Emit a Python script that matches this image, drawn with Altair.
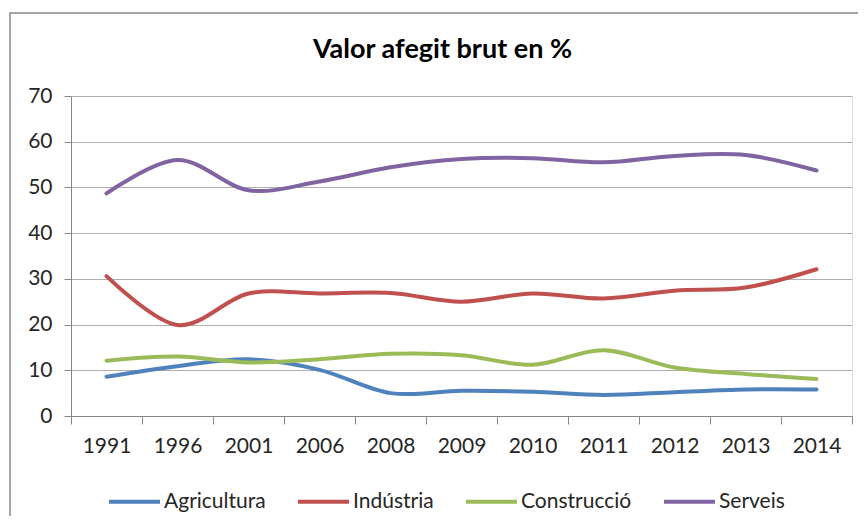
import altair as alt
import pandas as pd

years = ["1991", "1996", "2001", "2006", "2008", "2009", "2010", "2011", "2012", "2013", "2014"]
series_names = ["Agricultura", "Indústria", "Construcció", "Serveis"]
agricultura = [8.6, 10.9, 12.4, 10.1, 5.0, 5.5, 5.3, 4.6, 5.2, 5.8, 5.8]
industria = [30.6, 19.9, 26.8, 26.8, 26.9, 25.0, 26.8, 25.7, 27.4, 28.1, 32.1]
construccio = [12.1, 13.0, 11.7, 12.4, 13.6, 13.3, 11.2, 14.4, 10.6, 9.2, 8.1]
serveis = [48.7, 56.0, 49.4, 51.3, 54.4, 56.2, 56.4, 55.5, 56.9, 57.1, 53.7]
colors = ["#4F81BD", "#C0504D", "#9BBB59", "#8064A2"]
y_ticks = [0, 10, 20, 30, 40, 50, 60, 70]

rows = []
for name, vals in zip(series_names, [agricultura, industria, construccio, serveis]):
    for i, (yr, v) in enumerate(zip(years, vals)):
        rows.append({"i": i, "year": yr, "series": name, "value": v})
df = pd.DataFrame(rows)

n = len(years)
label_expr = "[" + ",".join("'" + y + "'" for y in years) + "][datum.value]"
boundaries = [k - 0.5 for k in range(n + 1)]

FONT = "Lato"
W, H = 781, 320

xscale = alt.Scale(domain=[-0.5, n - 0.5], nice=False, zero=False)
yscale = alt.Scale(domain=[0, 70], nice=False)

lines = alt.Chart(df).mark_line(interpolate="cardinal", strokeWidth=4, strokeCap="round").encode(
    x=alt.X("i:Q", scale=xscale,
            axis=alt.Axis(values=list(range(n)), labelExpr=label_expr, ticks=False, grid=False,
                          domain=True, domainColor="#868686", labelFontSize=21, labelColor="#262626",
                          labelPadding=19, title=None, orient="bottom", labelFont=FONT)),
    y=alt.Y("value:Q", scale=yscale,
            axis=alt.Axis(values=y_ticks, grid=True, gridColor="#B0B0B0", domainColor="#868686",
                          tickColor="#868686", tickSize=7, labelFontSize=21, labelColor="#262626",
                          labelPadding=12, title=None, labelFont=FONT)),
    color=alt.Color("series:N", scale=alt.Scale(domain=series_names, range=colors),
                    legend=alt.Legend(title=None, orient="none", direction="horizontal",
                                      legendX=36, legendY=378, symbolType="stroke",
                                      symbolSize=2601, symbolStrokeWidth=4, labelFontSize=21,
                                      labelFont=FONT, labelColor="#262626", labelOffset=2,
                                      columnPadding=24, padding=0)),
    order="i:Q",
)

ticks = alt.Chart(df).mark_line(opacity=0).encode(
    x=alt.X("i:Q", scale=xscale,
            axis=alt.Axis(values=boundaries, labels=False, ticks=True, tickSize=8, tickColor="#868686",
                          domain=False, grid=False, title=None, orient="bottom")),
    y=alt.Y("value:Q", scale=yscale),
    detail="series:N",
)

frame = alt.Chart(alt.Data(values=[{}])).mark_rect(
    fill=None, stroke="#898989", strokeWidth=1.5, clip=False
).encode(
    x=alt.value(-61), x2=alt.value(W + 60), y=alt.value(-83), y2=alt.value(H + 150)
)

chart = alt.layer(frame, lines, ticks).resolve_axis(x="independent").properties(
    width=W, height=H,
    title=alt.Title("Valor afegit brut en %", fontSize=27, font=FONT, fontWeight="bold",
                    color="#000000", anchor="middle", dx=-19, offset=-52),
    autosize=alt.AutoSizeParams(type="none"),
    padding={"left": 63, "top": 88, "right": 6, "bottom": 100},
).configure_view(stroke=None).configure(font=FONT)

chart.save("out.html", embed_options={"renderer": "svg", "actions": False})
